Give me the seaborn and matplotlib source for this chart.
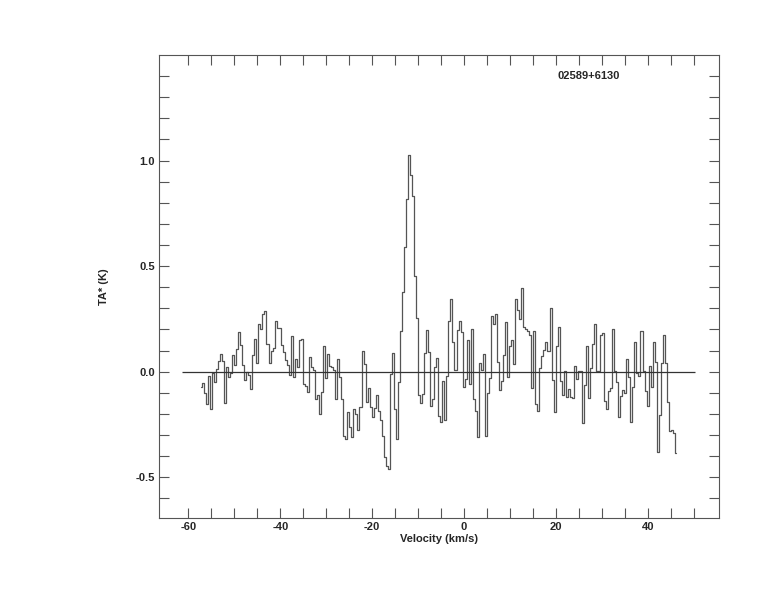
import matplotlib
matplotlib.use("Agg")
import matplotlib.pyplot as plt
import matplotlib.ticker as mticker
import numpy as np
import pandas as pd
import seaborn as sns

# spectrum of 02589+6130
source_name = "02589+6130"
v_first = -57.3        # km/s, centre of first channel
channel_width = 0.44   # km/s
ta_star = [
    -0.073, -0.055, -0.10, -0.153, -0.02, -0.177, -0.005, -0.047, 0.011, 0.049,
    0.084, 0.049, -0.148, 0.024, -0.024, -0.005, 0.079, 0.033, 0.107, 0.188,
    0.126, 0.033, -0.039, 0.0, -0.014, -0.082, 0.079, 0.155, 0.043, 0.226,
    0.204, 0.273, 0.288, 0.131, 0.043, 0.10, 0.112, 0.24, 0.209, 0.205,
    0.128, 0.095, 0.054, 0.033, -0.014, 0.169, -0.024, 0.06, 0.02, 0.15,
    0.155, -0.06, -0.066, -0.095, 0.071, 0.024, 0.008, -0.13, -0.11, -0.20,
    -0.098, 0.123, -0.032, 0.084,
    0.028, 0.024, 0.008, -0.13, 0.06, -0.027, -0.13, -0.303, -0.319, -0.19,
    -0.264, -0.311, -0.177, -0.2, -0.275, -0.169, 0.1, 0.036, -0.142, -0.077,
    -0.169, -0.213, -0.17, -0.109, -0.185, -0.229, -0.303, -0.406, -0.445, -0.461,
    -0.01, 0.09,
    -0.177, -0.32, -0.05, 0.194, 0.376, 0.59, 0.82, 1.027, 0.93, 0.834,
    0.455, 0.254, -0.109, -0.149, -0.106, 0.087, 0.197, 0.092, -0.161, -0.13,
    0.02, 0.065, -0.209, -0.237, -0.043, -0.229, -0.019, 0.242,
    0.344, 0.139, 0.008, 0.197, 0.242, 0.186, -0.074, -0.035, 0.15, -0.058,
    0.202, -0.13, -0.185, -0.308, 0.039, 0.008, 0.084, -0.303, -0.103, -0.03,
    0.265, 0.226, 0.273, 0.044, -0.087, -0.043, 0.081, 0.234, -0.024, 0.123,
    0.15, 0.036, 0.344, 0.292, 0.25, 0.397, 0.21, 0.202, 0.194, 0.175,
    -0.077, 0.191, -0.153, -0.185, 0.017, 0.076, 0.103, 0.139, 0.1, 0.302,
    -0.04, -0.19, 0.123, 0.21, -0.043, -0.109, 0.002, -0.118, -0.082, -0.122,
    -0.125, 0.028, -0.035, 0.002, 0.002, -0.245, -0.062, 0.123, -0.125,
    0.017, 0.131, 0.226, 0.005, 0.002, 0.174, 0.183, -0.137, -0.177, -0.093,
    -0.077, 0.202, 0.002, -0.051, -0.213, -0.114, -0.087, -0.103, 0.06, -0.027,
    -0.237, -0.071, 0.139, -0.008, -0.019, 0.194, 0.002, -0.093, -0.161, 0.025,
    -0.071, 0.142, 0.047, -0.379, -0.205, 0.039, 0.175, 0.039, -0.145, -0.28,
    -0.276, -0.292, -0.387,
]
baseline_span = [-61.3, 50.2]
x_ticks = np.arange(-60, 51, 5)
y_ticks = np.round(np.arange(-0.6, 1.41, 0.1), 1)

df = pd.DataFrame({"velocity": v_first + channel_width * np.arange(len(ta_star)),
                   "ta": ta_star})

sns.set_style("ticks")
plt.rcParams['font.family'] = ['Liberation Sans', 'DejaVu Sans']
plt.rcParams['font.weight'] = 'bold'

fig = plt.figure(figsize=(7.74, 6.12), dpi=100)
ax = fig.add_axes([0.2054, 0.1536, 0.7236, 0.7565])

sns.lineplot(data=df, x="velocity", y="ta", ax=ax, estimator=None,
             drawstyle="steps-mid", color="#555555", linewidth=0.9)
ax.hlines(0, baseline_span[0], baseline_span[1], color="#333333", linewidth=0.9)

ax.set_xlim(-66.4, 55.5)
ax.set_ylim(-0.693, 1.5)

ax.xaxis.set_major_locator(mticker.FixedLocator(x_ticks))
ax.yaxis.set_major_locator(mticker.FixedLocator(y_ticks))
ax.xaxis.set_major_formatter(mticker.FuncFormatter(
    lambda v, p: f"{v:.0f}" if round(v) % 20 == 0 else ""))
ax.yaxis.set_major_formatter(mticker.FuncFormatter(
    lambda v, p: f"{abs(v) if abs(v) < 1e-9 else v:.1f}" if abs(round(v * 10)) % 5 == 0 else ""))

ax.tick_params(direction="in", length=7, width=0.8, color="#555555",
               top=True, right=True, labelsize=8, pad=3)
for s in ax.spines.values():
    s.set_color("#555555")
    s.set_linewidth(0.8)

ax.set_xlabel("Velocity (km/s)", fontsize=8, fontweight="bold", labelpad=1)
ax.set_ylabel("TA* (K)", fontsize=8, fontweight="bold", labelpad=19)
ax.text(0.711, 0.955, source_name, transform=ax.transAxes, fontsize=8,
        fontweight="bold", va="center", ha="left")

fig.savefig("out.png", dpi=100)
